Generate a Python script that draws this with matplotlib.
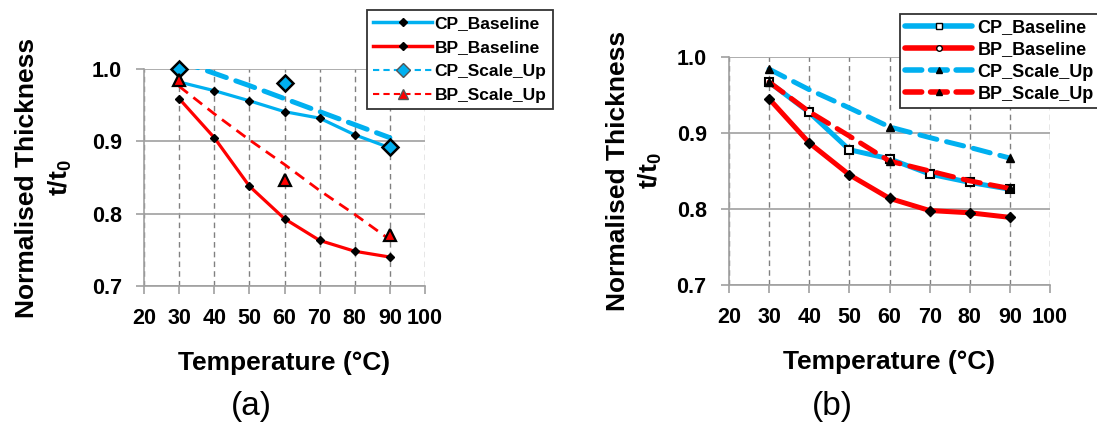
import matplotlib
matplotlib.use('Agg')
import matplotlib.pyplot as plt
from matplotlib.lines import Line2D

plt.rcParams['font.family'] = ['Liberation Sans', 'DejaVu Sans']
plt.rcParams['font.weight'] = 'bold'
plt.rcParams['axes.labelweight'] = 'bold'
plt.rcParams['mathtext.fontset'] = 'custom'
plt.rcParams['mathtext.rm'] = 'Liberation Sans:bold'
plt.rcParams['mathtext.default'] = 'rm'

# Данные
temps = [30, 40, 50, 60, 70, 80, 90]
scale_temps = [30, 60, 90]
labels = ['CP_Baseline', 'BP_Baseline', 'CP_Scale_Up', 'BP_Scale_Up']

# (a)
a_cp_base = [0.982, 0.970, 0.956, 0.941, 0.932, 0.909, 0.891]
a_bp_base = [0.959, 0.905, 0.838, 0.793, 0.763, 0.748, 0.740]
a_cp_up = [1.000, 0.980, 0.892]
a_bp_up = [0.985, 0.847, 0.770]
a_cp_up_trend = [1.011, 0.994, 0.977, 0.959, 0.941, 0.923, 0.905]
a_bp_up_trend = [0.976, 0.938, 0.902, 0.868, 0.832, 0.799, 0.764]

# (b)
b_cp_base = [0.967, 0.927, 0.878, 0.866, 0.846, 0.835, 0.826]
b_bp_base = [0.945, 0.887, 0.845, 0.814, 0.798, 0.795, 0.789]
b_cp_up = [0.984, 0.957, 0.933, 0.908, 0.894, 0.881, 0.867]
b_bp_up = [0.967, 0.928, 0.896, 0.863, 0.850, 0.837, 0.827]

BLUE = '#00B0F0'
RED = '#FF0000'

fig = plt.figure(figsize=(10.97, 4.25), dpi=100)
ax1 = fig.add_axes([0.1313, 0.3271, 0.2561, 0.5106])
ax2 = fig.add_axes([0.6645, 0.3294, 0.2927, 0.5365])


def style_axes(ax, ypad):
    ax.set_xlim(20, 100)
    ax.set_ylim(0.7, 1.0)
    ax.set_xticks(range(20, 101, 10))
    ax.set_yticks([0.7, 0.8, 0.9, 1.0])
    ax.set_yticklabels(['0.7', '0.8', '0.9', '1.0'])
    for s in ['top', 'right']:
        ax.spines[s].set_visible(False)
    for s in ['left', 'bottom']:
        ax.spines[s].set_color('#a0a0a0')
        ax.spines[s].set_linewidth(1.2)
    ax.tick_params(direction='out', length=6, color='#a0a0a0', width=1.2,
                   labelsize=15.5)
    ax.tick_params(axis='y', pad=10)
    ax.tick_params(axis='x', pad=10)
    ax.yaxis.grid(True, color='#a0a0a0', lw=1.2)
    ax.xaxis.grid(True, color='#808080', lw=1, ls=(0, (4, 3)))
    ax.set_axisbelow(True)
    ax.set_xlabel('Temperature (°C)', fontsize=19, labelpad=16)
    ax.set_ylabel('Normalised Thickness\nt/t$_0$', fontsize=19, labelpad=ypad,
                  linespacing=1.35)


style_axes(ax1, 13)
style_axes(ax2, 9)

# --- (a)
ax1.plot(temps, a_cp_base, color=BLUE, lw=2.3, marker='D', ms=4,
         mfc='black', mec='black', zorder=3)
ax1.plot(temps, a_bp_base, color=RED, lw=2.3, marker='D', ms=4,
         mfc='black', mec='black', zorder=3)
ax1.plot(temps, a_cp_up_trend, color=BLUE, lw=3.6, ls=(0, (4, 2)),
         dash_capstyle='round', zorder=2)
ax1.plot(temps, a_bp_up_trend, color=RED, lw=2.0, ls=(0, (4, 2.5)), zorder=2)
ax1.plot(scale_temps, a_cp_up, ls='none', marker='D', ms=8, mfc=BLUE,
         mec='black', mew=1.8, zorder=4, clip_on=False)
ax1.plot(scale_temps, a_bp_up, ls='none', marker='^', ms=9, mfc=RED,
         mec='black', mew=1.6, zorder=4, clip_on=False)

h1 = [Line2D([], [], color=BLUE, lw=2.5, marker='D', ms=4, mfc='black', mec='black'),
      Line2D([], [], color=RED, lw=2.5, marker='D', ms=4, mfc='black', mec='black'),
      Line2D([], [], color=BLUE, lw=1.5, ls=(0, (3, 2)), marker='D', ms=7,
             mfc=BLUE, mec='#555555'),
      Line2D([], [], color=RED, lw=1.5, ls=(0, (3, 2)), marker='^', ms=7,
             mfc=RED, mec='#555555')]
leg1 = ax1.legend(h1, labels, loc='upper left',
                  bbox_to_anchor=(367 / 1097, 1 - 10 / 425),
                  bbox_transform=fig.transFigure, fontsize=12.5,
                  handlelength=3.4, handletextpad=0.15, labelspacing=0.5,
                  borderpad=0.35, borderaxespad=0, fancybox=False,
                  framealpha=1, edgecolor='#333333')
leg1.get_frame().set_linewidth(1.3)

# --- (b)
ax2.plot(temps, b_cp_base, color=BLUE, lw=3.6, marker='s', ms=6,
         mfc='white', mec='black', mew=1.5, zorder=3)
ax2.plot(temps, b_bp_base, color=RED, lw=3.6, marker='D', ms=5,
         mfc='black', mec='black', zorder=3)
ax2.plot(temps, b_cp_up, color=BLUE, lw=3.6, ls=(0, (3.5, 2)),
         dash_capstyle='round', marker='^', ms=6, mfc='black', mec='black',
         markevery=[0, 3, 6], zorder=4)
ax2.plot(temps, b_bp_up, color=RED, lw=3.6, ls=(0, (3.5, 2)),
         dash_capstyle='round', marker='^', ms=6, mfc='black', mec='black',
         markevery=[0, 3, 6], zorder=4)

h2 = [Line2D([], [], color=BLUE, lw=4, solid_capstyle='round', marker='s',
             ms=5, mfc='white', mec='black'),
      Line2D([], [], color=RED, lw=4, solid_capstyle='round', marker='o',
             ms=4, mfc='white', mec='black'),
      Line2D([], [], color=BLUE, lw=4, ls=(0, (3, 1.6)), dash_capstyle='round',
             marker='^', ms=5, mfc='black', mec='black'),
      Line2D([], [], color=RED, lw=4, ls=(0, (3, 1.6)), dash_capstyle='round',
             marker='^', ms=5, mfc='black', mec='black')]
leg2 = ax2.legend(h2, labels, loc='upper left',
                  bbox_to_anchor=(900 / 1097, 1 - 14 / 425),
                  bbox_transform=fig.transFigure, fontsize=13,
                  handlelength=3.7, handletextpad=0.3, labelspacing=0.28,
                  borderpad=0.3, borderaxespad=0, fancybox=False,
                  framealpha=1, edgecolor='#333333')
leg2.get_frame().set_linewidth(1.3)

fig.text(251 / 1097, 1 - 407 / 425, '(a)', fontsize=24, fontweight='normal',
         ha='center', va='center')
fig.text(832 / 1097, 1 - 407 / 425, '(b)', fontsize=24, fontweight='normal',
         ha='center', va='center')

fig.savefig('out.png', dpi=100)
